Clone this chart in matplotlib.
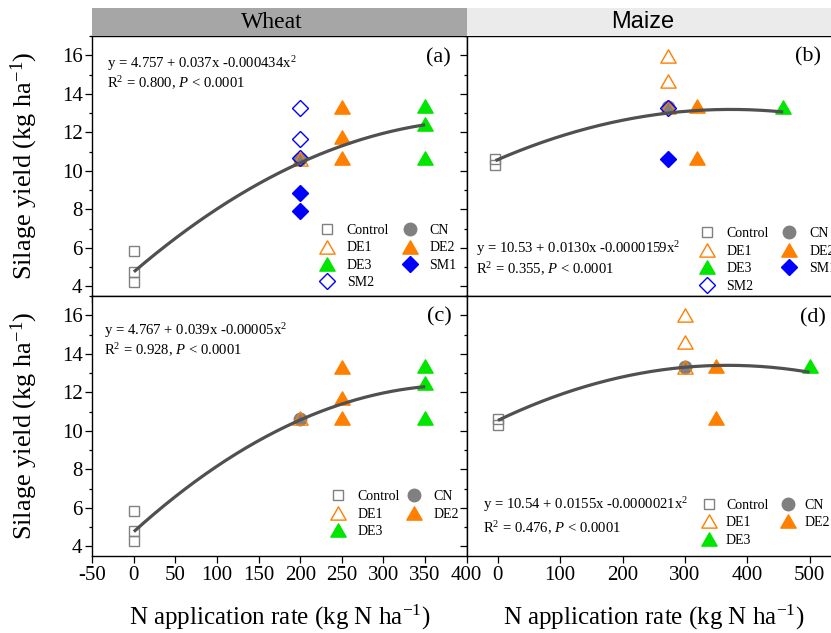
import matplotlib
matplotlib.use('Agg')
import matplotlib.pyplot as plt
from matplotlib.path import Path
from matplotlib.lines import Line2D
from matplotlib.ticker import MultipleLocator
import numpy as np

plt.rcParams['font.family'] = 'Liberation Serif'
plt.rcParams['mathtext.fontset'] = 'custom'
plt.rcParams['mathtext.rm'] = 'Liberation Serif'
plt.rcParams['mathtext.it'] = 'Liberation Serif:italic'
plt.rcParams['mathtext.bf'] = 'Liberation Serif:bold'
plt.rcParams['axes.unicode_minus'] = False

W, H = 831, 633

# N rates used by each treatment
wheat_rates = {'Control': 0, 'CN': 200, 'DE1': 200, 'DE2': 250, 'DE3': 350, 'SM1': 200, 'SM2': 200}
maize_rates = {'Control': 0, 'CN': 300, 'DE1': 300, 'DE2': 350, 'DE3': 500, 'SM1': 300, 'SM2': 300}

# silage yields
a_yield = {'Control': [5.83, 4.75, 4.25], 'CN': [10.6], 'DE1': [10.62],
           'DE2': [13.3, 11.75, 10.68], 'DE3': [13.35, 12.44, 10.66],
           'SM1': [8.83, 7.93], 'SM2': [13.26, 11.66, 10.66]}
b_yield = {'Control': [10.62, 10.3], 'CN': [13.3], 'DE1': [15.98, 14.65, 13.3],
           'DE2': [13.38, 10.66], 'DE3': [13.3],
           'SM1': [10.6], 'SM2': [13.26]}
c_yield = {'Control': [5.83, 4.8, 4.26], 'CN': [10.6], 'DE1': [10.64],
           'DE2': [13.33, 11.72, 10.64], 'DE3': [13.36, 12.46, 10.64]}
d_yield = {'Control': [10.6, 10.28], 'CN': [13.33], 'DE1': [15.99, 14.62, 13.33],
           'DE2': [13.36, 10.64], 'DE3': [13.36]}

# quadratic fits (intercept, linear, quadratic) and fitted x-range
a_fit = [4.757, 0.037, -0.0000434]
b_fit = [10.53, 0.0130, -0.0000159]
c_fit = [4.767, 0.039, -0.00005]
d_fit = [10.54, 0.0155, -0.000021]
a_eq = ['y = 4.757 + 0.037x -0.000434x$^2$', 'R$^2$ = 0.800, $P$ < 0.0001']
b_eq = ['y = 10.53 + 0.0130x -0.0000159x$^2$', 'R$^2$ = 0.355, $P$ < 0.0001']
c_eq = ['y = 4.767 + 0.039x -0.00005x$^2$', 'R$^2$ = 0.928, $P$ < 0.0001']
d_eq = ['y = 10.54 + 0.0155x -0.0000021x$^2$', 'R$^2$ = 0.476, $P$ < 0.0001']

tri = Path([(-1, -0.866), (1, -0.866), (0, 0.866), (-1, -0.866)],
           [Path.MOVETO, Path.LINETO, Path.LINETO, Path.CLOSEPOLY])
grey, orange, green, blue = '#808080', '#ff7f00', '#00e600', '#0000ff'
styles = {
    'Control': dict(marker='s', ms=7.7, mfc='none', mec=grey, mew=1.0),
    'CN': dict(marker='o', ms=9, mfc=grey, mec=grey),
    'DE1': dict(marker=tri, ms=11, mfc='none', mec=orange, mew=1.0),
    'DE2': dict(marker=tri, ms=11, mfc=orange, mec=orange),
    'DE3': dict(marker=tri, ms=11, mfc=green, mec=green),
    'SM1': dict(marker='D', ms=8, mfc=blue, mec=blue),
    'SM2': dict(marker='D', ms=8, mfc='none', mec=blue, mew=1.0),
}
draw_order = ['Control', 'CN', 'DE1', 'DE2', 'DE3', 'SM1', 'SM2']


def px_ax(x0, y0, x1, y1):
    return fig.add_axes([x0 / W, 1 - y1 / H, (x1 - x0) / W, (y1 - y0) / H])


def ftext(x, y, s, **kw):
    fig.text(x / W, 1 - y / H, s, **kw)


fig = plt.figure(figsize=(W / 100, H / 100), dpi=100)

xl, xm, xr = 92.3, 466.7, 840.7
yt, ym, yb = 36, 296, 556
ax_a = px_ax(xl, yt, xm, ym)
ax_b = px_ax(xm, yt, xr, ym)
ax_c = px_ax(xl, ym, xm, yb)
ax_d = px_ax(xm, ym, xr, yb)

panels = [
    (ax_a, a_yield, wheat_rates, a_fit, 350, (-50, 400), 50),
    (ax_b, b_yield, maize_rates, b_fit, 500, (-50, 600), 100),
    (ax_c, c_yield, wheat_rates, c_fit, 350, (-50, 400), 50),
    (ax_d, d_yield, maize_rates, d_fit, 500, (-50, 550), 100),
]

for ax, yields, rates, fit, xmax, xlim, xstep in panels:
    for k in draw_order:
        if k in yields:
            ax.plot([rates[k]] * len(yields[k]), yields[k], ls='none', zorder=3, **styles[k])
    xs = np.linspace(0, xmax, 200)
    ax.plot(xs, fit[0] + fit[1] * xs + fit[2] * xs ** 2, color='#505050', lw=2.3, zorder=4,
            solid_capstyle='butt')
    ax.set_xlim(*xlim)
    ax.set_ylim(3.5, 17)
    ax.xaxis.set_major_locator(MultipleLocator(xstep))
    ax.yaxis.set_major_locator(MultipleLocator(2))
    ax.yaxis.set_minor_locator(MultipleLocator(1))
    ax.tick_params(which='both', direction='out', width=0.9, labelsize=15, pad=2)
    ax.tick_params(which='major', length=5)
    ax.tick_params(which='minor', length=2.5)
    for sp in ax.spines.values():
        sp.set_linewidth(1.0)

for ax in (ax_a, ax_b):
    ax.tick_params(labelbottom=False)
for ax in (ax_b, ax_d):
    ax.tick_params(labelleft=False)

# legends
for ax, keys, x, y, cs, tp in [
    (ax_a, ['Control', 'DE1', 'DE3', 'SM2', 'CN', 'DE2', 'SM1'], 0.608, 0.277, 0.98, 0.93),
    (ax_b, ['Control', 'DE1', 'DE3', 'SM2', 'CN', 'DE2', 'SM1'], 0.623, 0.264, 0.98, 0.93),
    (ax_c, ['Control', 'DE1', 'DE3', 'CN', 'DE2'], 0.637, 0.2535, 0.48, 0.93),
    (ax_d, ['Control', 'DE1', 'DE3', 'CN', 'DE2'], 0.630, 0.220, 0.90, 0.70),
]:
    handles = [Line2D([], [], ls='none', **styles[k]) for k in keys]
    ax.legend(handles, keys, ncol=2, loc='upper left', bbox_to_anchor=(x, y),
              frameon=False, fontsize=10, handlelength=1.0, handletextpad=tp,
              columnspacing=cs, labelspacing=0.32, borderpad=0, borderaxespad=0)

# equations
for eq, x, y1, y2 in [(a_eq, 107.3, 68.3, 88.3), (b_eq, 476, 252.7, 274),
                      (c_eq, 104, 335, 355), (d_eq, 482.7, 509.3, 532.7)]:
    ftext(x, y1, eq[0], fontsize=10.6, ha='left', va='baseline')
    ftext(x, y2, eq[1], fontsize=10.6, ha='left', va='baseline')

for lab, x, y in [('(a)', 438.3, 58.3), ('(b)', 808.3, 57), ('(c)', 439.3, 317), ('(d)', 812.5, 318)]:
    ftext(x, y, lab, fontsize=16, ha='center', va='center')

# strips
s1 = px_ax(xl, 8, xm, yt)
s2 = px_ax(xm, 8, xr, yt)
for s, col in ((s1, '#a6a6a6'), (s2, '#ebebeb')):
    s.set_facecolor(col)
    s.set_xticks([])
    s.set_yticks([])
    for sp in s.spines.values():
        sp.set_visible(False)
ftext(272, 22, 'Wheat', fontsize=17, ha='center', va='center')
ftext(642.5, 22, 'Maize', fontsize=17, ha='center', va='center', family='Liberation Sans')

# axis titles
for y in (166, 426):
    ftext(24, y, 'Silage yield (kg ha$^{-1}$)', fontsize=19, rotation=90, ha='center', va='center')
for x in (279.5, 653.7):
    ftext(x, 625, 'N application rate (kg N ha$^{-1}$)', fontsize=18, ha='center', va='baseline')

fig.savefig('out.png', dpi=100)
